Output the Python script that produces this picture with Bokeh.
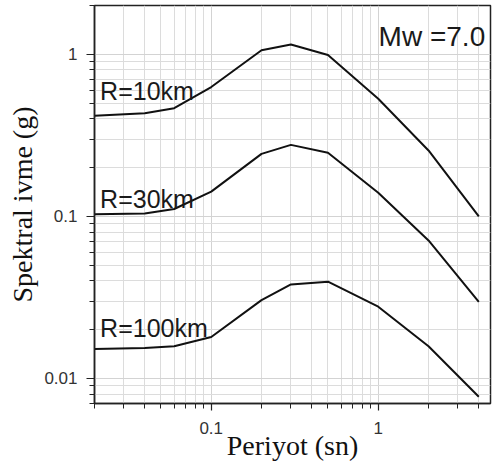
from bokeh.plotting import figure
from bokeh.models import FixedTicker, Label, CustomJSTickFormatter, Range1d
from bokeh.embed import file_html
from bokeh.resources import INLINE

# ---- data ----
periods = [0.02, 0.04, 0.06, 0.1, 0.2, 0.3, 0.5, 1, 2, 4]
sa_r10 = [0.418, 0.433, 0.465, 0.628, 1.06, 1.15, 0.99, 0.532, 0.255, 0.100]
sa_r30 = [0.103, 0.104, 0.111, 0.142, 0.243, 0.276, 0.247, 0.140, 0.071, 0.0297]
sa_r100 = [0.0152, 0.0154, 0.0158, 0.018, 0.0304, 0.038, 0.0395, 0.0277, 0.0158, 0.0077]
series_labels = ["R=10km", "R=30km", "R=100km"]
magnitude_label = "Mw =7.0"
x_major_ticks = [0.1, 1]
y_major_ticks = [0.01, 0.1, 1]
x_title = "Periyot (sn)"
y_title = "Spektral ivme (g)"

minor = [m * 10 ** e for e in (-3, -2, -1, 0) for m in range(2, 10)]

p = figure(width=496, height=469, x_axis_type="log", y_axis_type="log",
           x_range=Range1d(0.02, 4.7), y_range=Range1d(0.007, 2.0),
           output_backend="svg", toolbar_location=None,
           min_border_left=94, min_border_right=6, min_border_top=5,
           min_border_bottom=66)

p.background_fill_color = "white"
p.border_fill_color = "white"
p.outline_line_color = "#222222"
p.outline_line_width = 1.5

p.xaxis.ticker = FixedTicker(ticks=x_major_ticks, minor_ticks=minor)
p.yaxis.ticker = FixedTicker(ticks=y_major_ticks, minor_ticks=minor)
fmt = CustomJSTickFormatter(code="return String(tick);")
p.xaxis.formatter = fmt
p.yaxis.formatter = fmt

for ax in (p.xaxis, p.yaxis):
    ax.axis_line_color = "#222222"
    ax.axis_line_width = 1.5
    ax.major_tick_line_color = "#222222"
    ax.minor_tick_line_color = "#222222"
    ax.major_tick_line_width = 1.2
    ax.minor_tick_line_width = 1
    ax.major_tick_in = 0
    ax.minor_tick_in = 0
    ax.major_label_text_font = "Liberation Sans"
    ax.major_label_text_font_size = "17px"
    ax.major_label_text_color = "#333333"
    ax.axis_label_text_font = "Liberation Serif"
    ax.axis_label_text_font_size = "28px"
    ax.axis_label_text_font_style = "normal"
    ax.axis_label_text_color = "#111111"

p.yaxis.major_tick_out = 8
p.yaxis.minor_tick_out = 5
p.yaxis.major_label_standoff = 9
p.yaxis.axis_label = y_title
p.yaxis.axis_label_standoff = 3

p.xaxis.major_tick_out = 7
p.xaxis.minor_tick_out = 5
p.xaxis.major_label_standoff = 11
p.xaxis.axis_label = x_title
p.xaxis.axis_label_standoff = -7

for g in (p.xgrid, p.ygrid):
    g.grid_line_color = "#d3d3d3"
    g.grid_line_width = 1
    g.minor_grid_line_color = "#dcdcdc"
    g.minor_grid_line_width = 1

for sa in (sa_r10, sa_r30, sa_r100):
    p.line(periods, sa, line_color="#111111", line_width=2)

label_pos = [(0.0216, 0.59), (0.0216, 0.128), (0.0216, 0.0204)]
for text, (lx, ly) in zip(series_labels, label_pos):
    p.add_layout(Label(x=lx, y=ly, text=text, text_font="Liberation Sans",
                       text_font_size="25px", text_color="#1a1a1a",
                       text_baseline="alphabetic", text_align="left"))

p.add_layout(Label(x=4.37, y=1.29, text=magnitude_label, text_font="Liberation Sans",
                   text_font_size="28px", text_color="#1a1a1a",
                   text_baseline="alphabetic", text_align="right"))

open("out.html", "w").write(file_html(p, INLINE))
